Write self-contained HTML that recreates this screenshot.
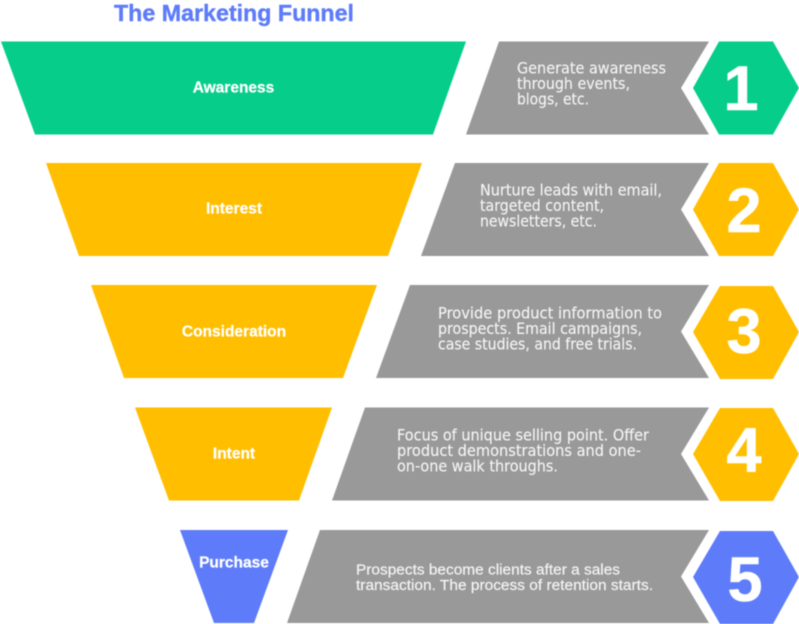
<!DOCTYPE html>
<html>
<head>
<meta charset="utf-8">
<style>
html,body{margin:0;padding:0;background:#fff;width:799px;height:624px;overflow:hidden}
svg{display:block;filter:blur(0.4px)}
.h{font:bold 23.5px "Liberation Sans",sans-serif;fill:#5e7cf9;stroke:#5e7cf9;stroke-width:.4}
.l{font:bold 15.5px "Liberation Sans",sans-serif;fill:#fff;stroke:#fff;stroke-width:.25;text-anchor:middle}
.t{font:16px "DejaVu Sans",sans-serif;fill:#f6f6f6;stroke:#f6f6f6;stroke-width:.1}
.a{font:14.8px "Liberation Sans",sans-serif;fill:#f6f6f6;stroke:#f6f6f6;stroke-width:.15}
.n{font:bold 63px "Liberation Sans",sans-serif;fill:#fff;stroke:#fff;stroke-width:.6;text-anchor:middle}
</style>
</head>
<body>
<svg width="799" height="624" viewBox="0 0 799 624" xmlns="http://www.w3.org/2000/svg">
<text class="h" x="114" y="21" textLength="240" lengthAdjust="spacingAndGlyphs">The Marketing Funnel</text>

<polygon fill="#06cd8a" points="1,41.5 466,41.5 433,134.5 35,134.5"/>
<polygon fill="#ffbe00" points="46,163 422,163 388,256 79,256"/>
<polygon fill="#ffbe00" points="91,285 377,285 343,378 124,378"/>
<polygon fill="#ffbe00" points="135,407.5 332,407.5 299,500.5 169,500.5"/>
<polygon fill="#5e7cf9" points="180,530 288,530 254,623 214,623"/>

<text class="l" x="233.500" y="92.500">Awareness</text>
<text class="l" x="234" y="213.500">Interest</text>
<text class="l" x="234" y="336.500">Consideration</text>
<text class="l" x="234" y="458.500">Intent</text>
<text class="l" x="234" y="567.500">Purchase</text>

<g fill="#999999">
<polygon points="499,41.5 709,41.5 681,88 709,134.5 466,134.5"/>
<polygon points="455,163 709,163 681,209.500 709,256 421,256"/>
<polygon points="410,285 709,285 681,331.500 709,378 376,378"/>
<polygon points="365,407.500 709,407.500 681,454 709,500.500 332,500.500"/>
<polygon points="320,530 709,530 681,576.500 709,623 287,623"/>
</g>

<polygon fill="#06cd8a" points="719,41.5 773,41.5 799,88 773,134.5 719,134.5 693,88"/>
<polygon fill="#ffbe00" points="719,163 773,163 799,209.500 773,256 719,256 693,209.500"/>
<polygon fill="#ffbe00" points="720,286 773,286 799,332 773,379 720,379 693,332"/>
<polygon fill="#ffbe00" points="720,408 773,408 799,454 773,501 720,501 693,454"/>
<polygon fill="#5e7cf9" points="720,531 773,531 799,577 773,624 720,624 693,577"/>

<text class="n" x="741" y="110">1</text>
<text class="n" x="744" y="232">2</text>
<text class="n" x="744" y="353">3</text>
<text class="n" x="744" y="472">4</text>
<text class="n" x="745" y="601">5</text>

<text class="t" x="517" y="73.500" textLength="149" lengthAdjust="spacingAndGlyphs">Generate awareness</text>
<text class="t" x="517" y="89" textLength="113" lengthAdjust="spacingAndGlyphs">through events,</text>
<text class="t" x="517" y="104.500" textLength="72" lengthAdjust="spacingAndGlyphs">blogs, etc.</text>

<text class="t" x="480" y="195.500" textLength="182" lengthAdjust="spacingAndGlyphs">Nurture leads with email,</text>
<text class="t" x="480" y="211" textLength="124" lengthAdjust="spacingAndGlyphs">targeted content,</text>
<text class="t" x="480" y="226.500" textLength="117" lengthAdjust="spacingAndGlyphs">newsletters, etc.</text>

<text class="t" x="438" y="318.500" textLength="224" lengthAdjust="spacingAndGlyphs">Provide product information to</text>
<text class="t" x="438" y="334" textLength="204" lengthAdjust="spacingAndGlyphs">prospects. Email campaigns,</text>
<text class="t" x="438" y="349.500" textLength="199" lengthAdjust="spacingAndGlyphs">case studies, and free trials.</text>

<text class="t" x="397" y="440.500" textLength="252" lengthAdjust="spacingAndGlyphs">Focus of unique selling point. Offer</text>
<text class="t" x="397" y="456" textLength="244" lengthAdjust="spacingAndGlyphs">product demonstrations and one-</text>
<text class="t" x="397" y="471.500" textLength="161" lengthAdjust="spacingAndGlyphs">on-one walk throughs.</text>

<text class="a" x="356" y="574.500" textLength="264" lengthAdjust="spacingAndGlyphs">Prospects become clients after a sales</text>
<text class="a" x="356" y="590" textLength="297" lengthAdjust="spacingAndGlyphs">transaction. The process of retention starts.</text>
</svg>
</body>
</html>
